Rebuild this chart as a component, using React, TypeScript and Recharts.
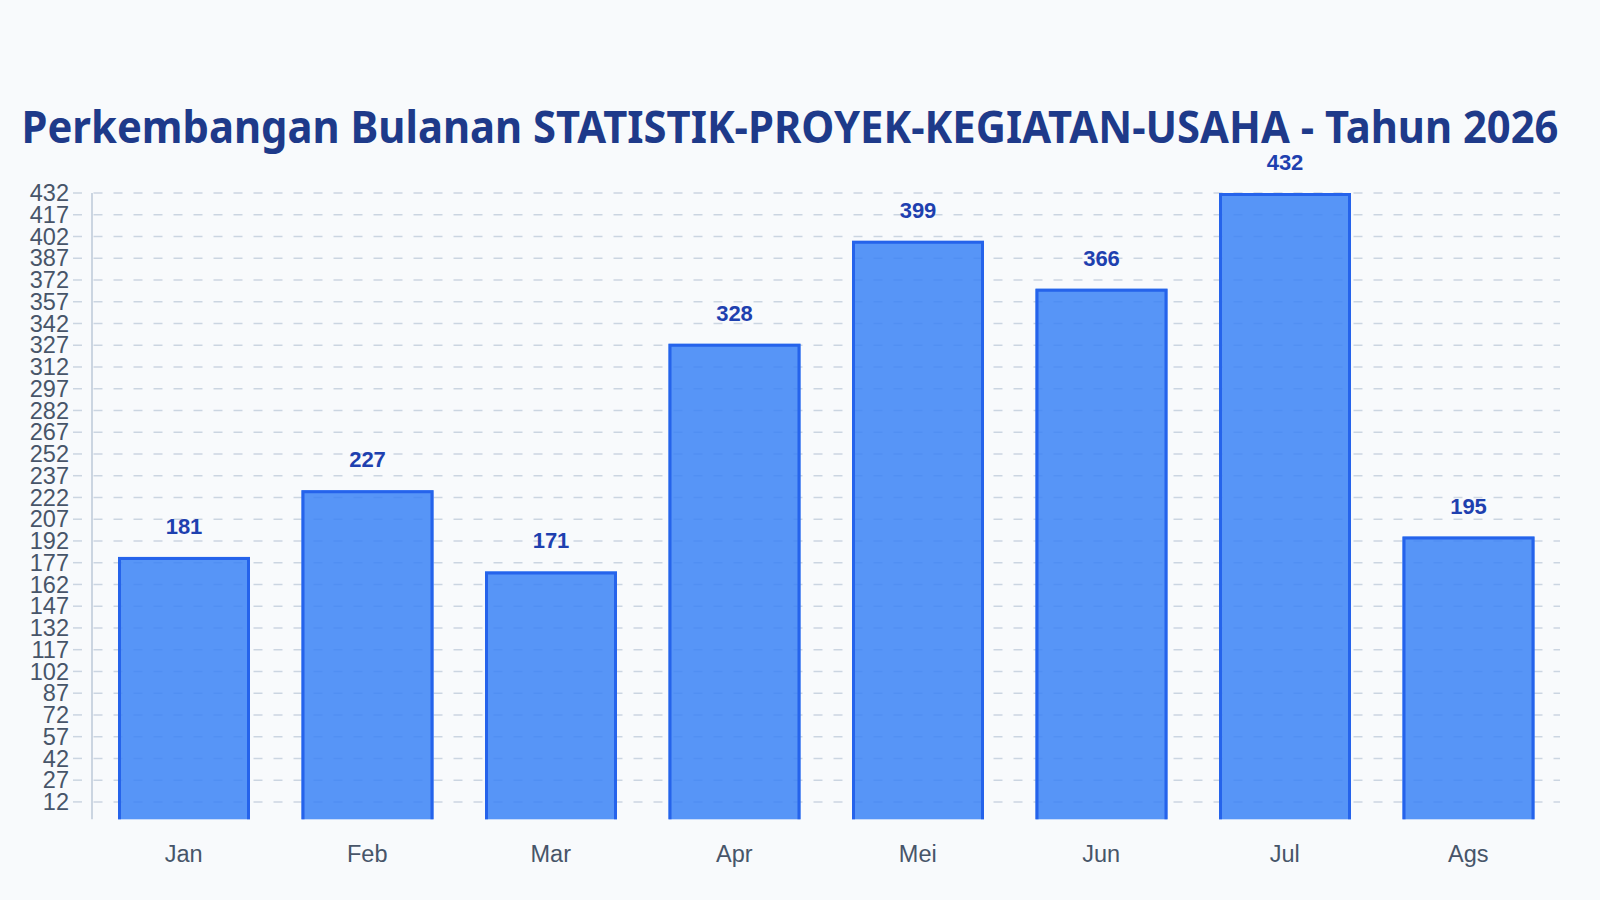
import React from "react";
import { Bar, BarChart, CartesianGrid, LabelList, XAxis, YAxis } from "recharts";

const months = ["Jan", "Feb", "Mar", "Apr", "Mei", "Jun", "Jul", "Ags"];
const projectCounts = [181, 227, 171, 328, 399, 366, 432, 195];
const yTicks = [
  12, 27, 42, 57, 72, 87, 102, 117, 132, 147, 162, 177, 192, 207, 222, 237, 252, 267, 282, 297,
  312, 327, 342, 357, 372, 387, 402, 417, 432,
];

const chartData = months.map((month, i) => ({ month, value: projectCounts[i] }));

const TITLE = "Perkembangan Bulanan STATISTIK-PROYEK-KEGIATAN-USAHA - Tahun 2026";
const SANS = '"Liberation Sans", Arial, Helvetica, sans-serif';

const BarShape = (props: any) => {
  const { x, y, width, height } = props;
  const b = 1.5;
  return (
    <g>
      <rect x={x} y={y} width={width} height={height} fill="rgba(59,130,246,0.85)" />
      <path
        d={`M${x + b},${y + height} L${x + b},${y + b} L${x + width - b},${y + b} L${x + width - b},${y + height}`}
        fill="none"
        stroke="#2563eb"
        strokeWidth={3}
      />
    </g>
  );
};

const YTick = (props: any) => {
  const { x, y, payload } = props;
  return (
    <g>
      <line x1={x - 19} x2={x - 10} y1={y} y2={y} stroke="#cbd5e1" strokeWidth={1.5} />
      <text
        x={x - 23}
        y={y}
        dy="0.35em"
        textAnchor="end"
        fontFamily={SANS}
        fontSize={23.5}
        fill="#475569"
      >
        {payload.value}
      </text>
    </g>
  );
};

const XTick = (props: any) => {
  const { x, y, payload } = props;
  return (
    <text x={x} y={y + 43} textAnchor="middle" fontFamily={SANS} fontSize={23.5} fill="#475569">
      {payload.value}
    </text>
  );
};

const ValueLabel = (props: any) => {
  const { x, y, width, value } = props;
  return (
    <text
      x={x + width / 2}
      y={y - 23}
      textAnchor="middle"
      fontFamily={SANS}
      fontWeight="bold"
      fontSize={22}
      fill="#1e40af"
    >
      {value}
    </text>
  );
};

export default function App() {
  return (
    <div
      style={{
        position: "absolute",
        left: 0,
        top: 0,
        width: 1600,
        height: 900,
        background: "#f8fafc",
      }}
    >
      <svg
        width={1600}
        height={900}
        style={{ position: "absolute", left: 0, top: 0, pointerEvents: "none" }}
      >
        <text
          x={790}
          y={143}
          textAnchor="middle"
          fontFamily='"Noto Sans", sans-serif'
          fontWeight="bold"
          fontSize={45}
          textLength={1537}
          lengthAdjust="spacingAndGlyphs"
          fill="#1e3a8a"
        >
          {TITLE}
        </text>
      </svg>
      <BarChart
        width={1600}
        height={900}
        data={chartData}
        margin={{ top: 193, right: 40, bottom: 0, left: 0 }}
        style={{ position: "absolute", left: 0, top: 0 }}
      >
        <CartesianGrid
          vertical={false}
          horizontalValues={yTicks}
          stroke="#cbd5e1"
          strokeWidth={1.5}
          strokeDasharray="0 1.5 9 9.5"
        />
        <XAxis
          dataKey="month"
          height={80.7}
          axisLine={false}
          tickLine={false}
          tickSize={0}
          tickMargin={0}
          tick={<XTick />}
          interval={0}
        />
        <YAxis
          width={92}
          domain={[0, 432]}
          ticks={yTicks}
          interval={0}
          axisLine={{ stroke: "#cbd5e1", strokeWidth: 2 }}
          tickLine={false}
          tickSize={0}
          tickMargin={0}
          tick={<YTick />}
        />
        <Bar dataKey="value" barSize={132} shape={<BarShape />} isAnimationActive={false}>
          <LabelList dataKey="value" content={<ValueLabel />} />
        </Bar>
      </BarChart>
    </div>
  );
}
